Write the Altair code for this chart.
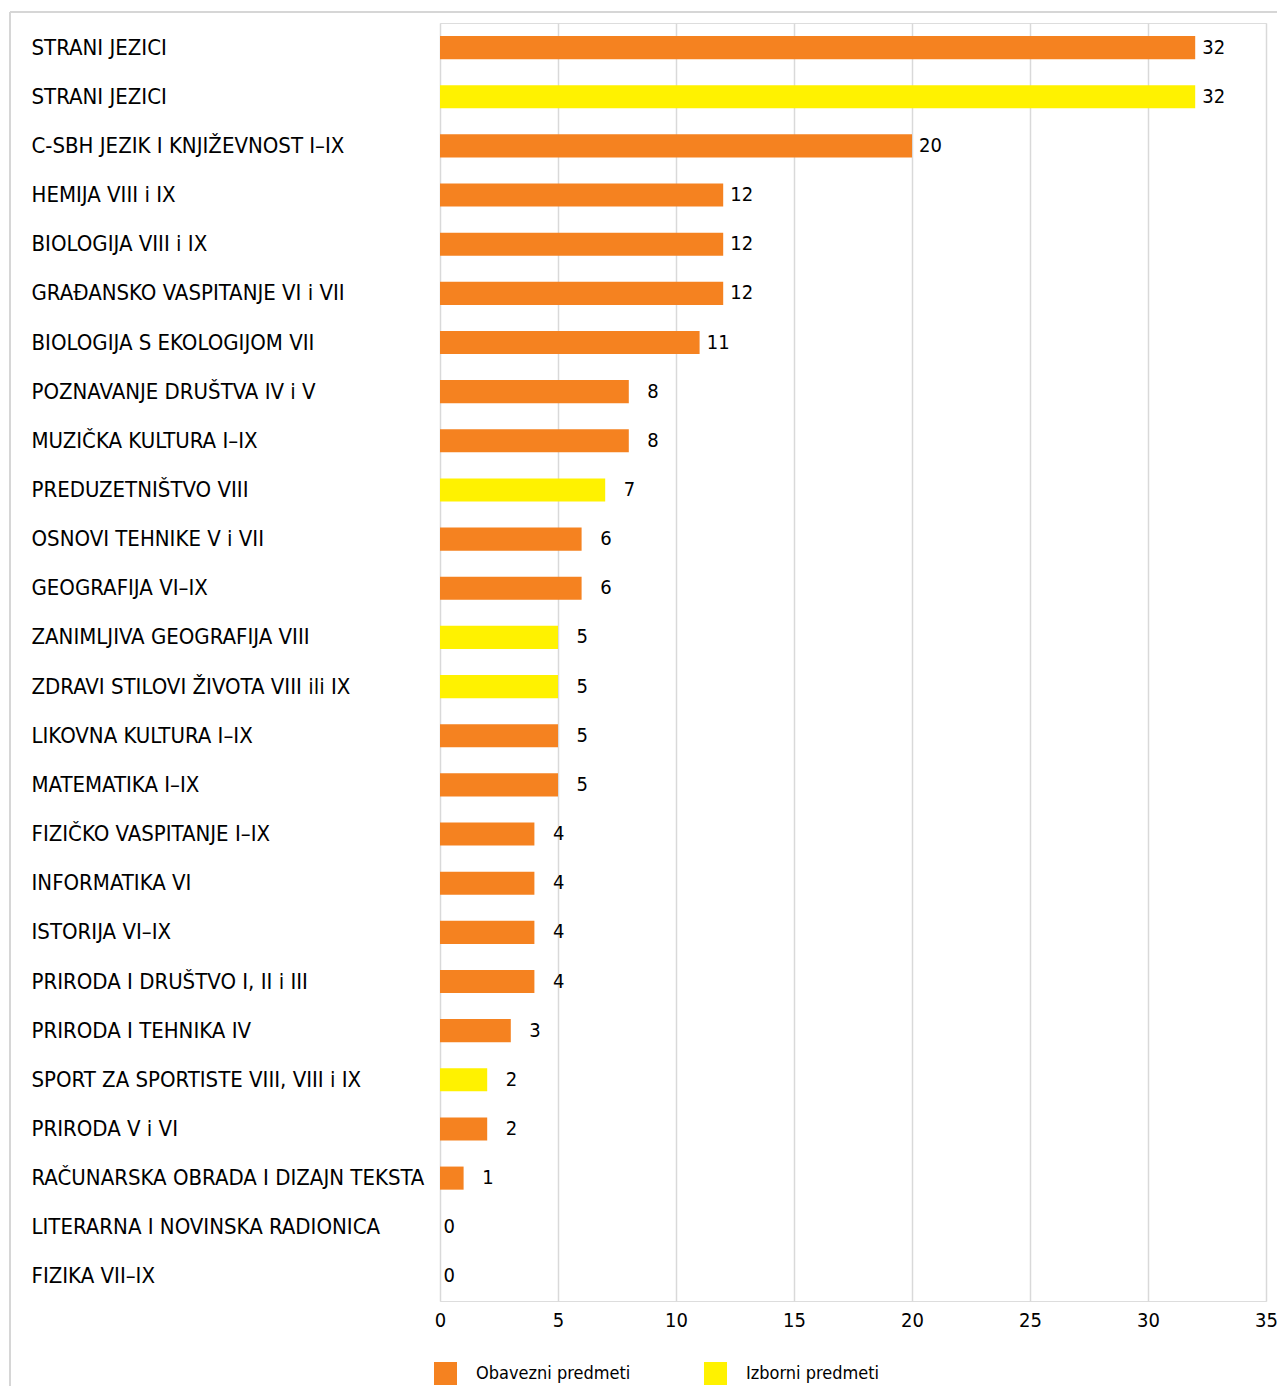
import json
import altair as alt
import pandas as pd

names = [
    "STRANI JEZICI",
    "STRANI JEZICI",
    "C-SBH JEZIK I KNJIŽEVNOST I–IX",
    "HEMIJA VIII i IX",
    "BIOLOGIJA VIII i IX",
    "GRAĐANSKO VASPITANJE VI i VII",
    "BIOLOGIJA S EKOLOGIJOM VII",
    "POZNAVANJE DRUŠTVA  IV i V",
    "MUZIČKA KULTURA I–IX",
    "PREDUZETNIŠTVO VIII",
    "OSNOVI TEHNIKE V i VII",
    "GEOGRAFIJA VI–IX",
    "ZANIMLJIVA GEOGRAFIJA VIII",
    "ZDRAVI STILOVI ŽIVOTA VIII ili IX",
    "LIKOVNA KULTURA I–IX",
    "MATEMATIKA I–IX",
    "FIZIČKO VASPITANJE I–IX",
    "INFORMATIKA VI",
    "ISTORIJA VI–IX",
    "PRIRODA I DRUŠTVO  I, II i III",
    "PRIRODA I TEHNIKA IV",
    "SPORT ZA SPORTISTE VIII, VIII i IX",
    "PRIRODA V i VI",
    "RAČUNARSKA OBRADA I DIZAJN TEKSTA",
    "LITERARNA I NOVINSKA RADIONICA",
    "FIZIKA VII–IX",
]
values = [32, 32, 20, 12, 12, 12, 11, 8, 8, 7, 6, 6, 5, 5, 5, 5, 4, 4, 4, 4, 3, 2, 2, 1, 0, 0]
groups = [
    "Obavezni predmeti", "Izborni predmeti", "Obavezni predmeti", "Obavezni predmeti",
    "Obavezni predmeti", "Obavezni predmeti", "Obavezni predmeti", "Obavezni predmeti",
    "Obavezni predmeti", "Izborni predmeti", "Obavezni predmeti", "Obavezni predmeti",
    "Izborni predmeti", "Izborni predmeti", "Obavezni predmeti", "Obavezni predmeti",
    "Obavezni predmeti", "Obavezni predmeti", "Obavezni predmeti", "Obavezni predmeti",
    "Obavezni predmeti", "Izborni predmeti", "Obavezni predmeti", "Obavezni predmeti",
    "Obavezni predmeti", "Obavezni predmeti",
]
legend_order = ["Obavezni predmeti", "Izborni predmeti"]
colors = ["#F58220", "#FFF200"]
x_ticks = [0, 5, 10, 15, 20, 25, 30, 35]

df = pd.DataFrame({"idx": list(range(len(names))), "name": names, "value": values, "group": groups})

FONT = "DejaVu Sans Condensed, DejaVu Sans, sans-serif"
W, H = 826, 1278

label_expr = "[" + ",".join(json.dumps(n, ensure_ascii=False) for n in names) + "][datum.value]"

y_enc = alt.Y(
    "idx:O",
    sort="ascending",
    scale=alt.Scale(paddingInner=0.53, paddingOuter=0.265),
    axis=alt.Axis(
        title=None, labelExpr=label_expr, labelAlign="left", labelPadding=409,
        labelFontSize=22, labelFont=FONT, labelColor="#000000", labelLimit=0,
        ticks=False, domain=False, grid=False,
    ),
)

base = alt.Chart(df)

bars = base.mark_bar().encode(
    x=alt.X(
        "value:Q",
        scale=alt.Scale(domain=[0, 35], nice=False),
        axis=alt.Axis(
            title=None, values=x_ticks, grid=True, gridColor="#D9D9D9", gridWidth=1.5,
            domain=False, ticks=False, labelFontSize=20, labelFont=FONT,
            labelColor="#000000", labelPadding=9, labelFlush=False, labelOverlap=False,
        ),
    ),
    y=y_enc,
    color=alt.Color(
        "group:N",
        scale=alt.Scale(domain=legend_order, range=colors),
        legend=alt.Legend(
            title=None, orient="none", legendX=-6, legendY=1339, direction="horizontal",
            symbolType="square", symbolSize=529, symbolStrokeWidth=0, labelFontSize=18,
            labelFont=FONT, labelColor="#000000", labelOffset=19, columnPadding=73,
            padding=0, symbolOpacity=1,
        ),
    ),
)

text_nz = base.transform_filter("datum.value != 0").mark_text(
    align="right", baseline="middle", dx=30, fontSize=20, font=FONT, color="#000000"
).encode(x="value:Q", y=alt.Y("idx:O", sort="ascending"), text="value:Q")

text_z = base.transform_filter("datum.value == 0").mark_text(
    align="right", baseline="middle", dx=15, fontSize=20, font=FONT, color="#000000"
).encode(x="value:Q", y=alt.Y("idx:O", sort="ascending"), text="value:Q")

border_df = pd.DataFrame({"k": [0]})
top_line = alt.Chart(border_df).mark_rule(color="#D6D6D6", strokeWidth=2).encode(
    x=alt.value(-430), x2=alt.value(840), y=alt.value(-11)
)
left_line = alt.Chart(border_df).mark_rule(color="#D6D6D6", strokeWidth=2).encode(
    x=alt.value(-430), y=alt.value(-11), y2=alt.value(1370)
)

chart = alt.layer(top_line, left_line, bars, text_nz, text_z).properties(
    width=W, height=H,
    autosize=alt.AutoSizeParams(type="none"),
    padding={"left": 432, "top": 15, "right": 11, "bottom": 85},
).configure_view(stroke=None).configure(font=FONT, background="#FFFFFF")

chart.save("out.html", embed_options={"renderer": "svg", "actions": False})
